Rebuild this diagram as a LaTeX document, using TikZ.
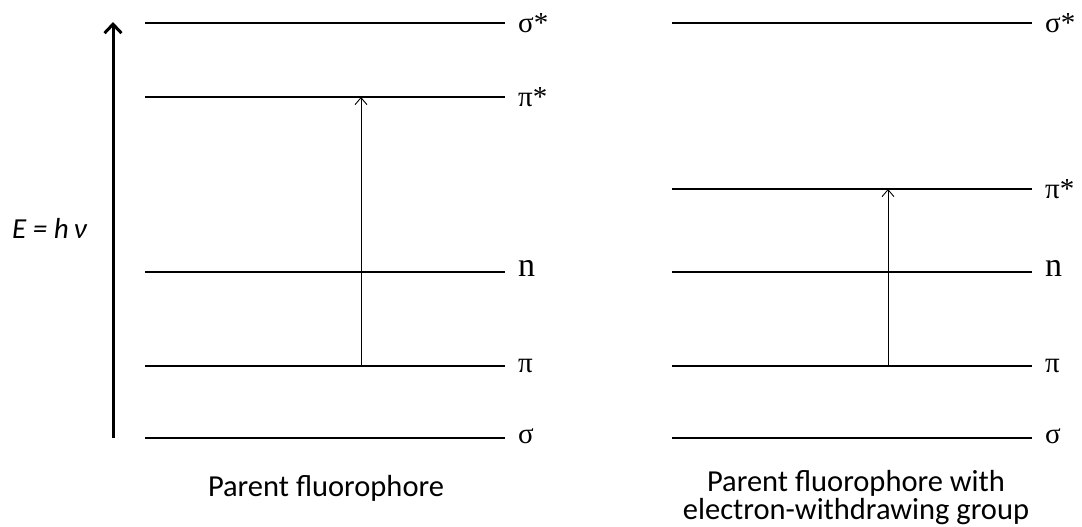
\documentclass[tikz,border=0pt]{standalone}
\usepackage{fontspec}
\setmainfont{Carlito}
\newfontfamily\orbfont{Liberation Serif}
\usetikzlibrary{arrows.meta}

\tikzset{
  level/.style={line width=2.8pt},
  orblabel/.style={anchor=west,inner sep=0pt,font=\orbfont\fontsize{29}{30}\selectfont},
  caption/.style={anchor=base,inner sep=0pt,align=center,font=\fontsize{30.5}{28}\selectfont},
  excite/.style={line width=0.9pt,-{Straight Barb[length=7pt,width=12pt,line width=0.9pt]}},
}

\begin{document}
\begin{tikzpicture}[x=1pt,y=-1pt,line cap=butt,line join=miter]
  \path[use as bounding box] (0,0) rectangle (1082,527);

  % energy axis
  \coordinate (axbot) at (113,438);
  \coordinate (axtop) at (113,22);
  \draw[line width=3pt,-{Straight Barb[length=9pt,width=17pt,line width=3pt]}] (axbot) -- (axtop);
  \node[anchor=base west,inner sep=0pt,font=\itshape\fontsize{29}{32}\selectfont]
    (energy) at (12,238) {E = h\,ν};

  % left column: parent fluorophore
  \draw[level] (145,23) -- (505,23);
  \draw[level] (145,97) -- (505,97);
  \draw[level] (145,272) -- (505,272);
  \draw[level] (145,366) -- (505,366);
  \draw[level] (145,438) -- (505,438);
  \node[orblabel] (lsigstar) at (518,23) {σ*};
  \node[orblabel] (lpistar) at (518,97) {π*};
  \node[orblabel,font=\orbfont\fontsize{34}{36}\selectfont] (ln) at (518,268) {n};
  \node[orblabel] (lpi) at (518,366) {π};
  \node[orblabel] (lsig) at (518,436) {σ};

  \coordinate (lfrom) at (361,366);
  \coordinate (lto) at (361,97);
  \draw[excite] (lfrom) -- (lto);

  \node[caption] (lcap) at (326,496) {Parent fluorophore};

  % right column: with electron-withdrawing group
  \draw[level] (672,23) -- (1032,23);
  \draw[level] (672,189) -- (1032,189);
  \draw[level] (672,272) -- (1032,272);
  \draw[level] (672,366) -- (1032,366);
  \draw[level] (672,438) -- (1032,438);
  \node[orblabel] (rsigstar) at (1045,23) {σ*};
  \node[orblabel] (rpistar) at (1045,189) {π*};
  \node[orblabel,font=\orbfont\fontsize{34}{36}\selectfont] (rn) at (1045,268) {n};
  \node[orblabel] (rpi) at (1045,366) {π};
  \node[orblabel] (rsig) at (1045,436) {σ};

  \coordinate (rfrom) at (888,366);
  \coordinate (rto) at (888,189);
  \draw[excite] (rfrom) -- (rto);

  \node[caption] (rcap) at (856,519) {Parent fluorophore with\\electron-withdrawing group};
\end{tikzpicture}
\end{document}
